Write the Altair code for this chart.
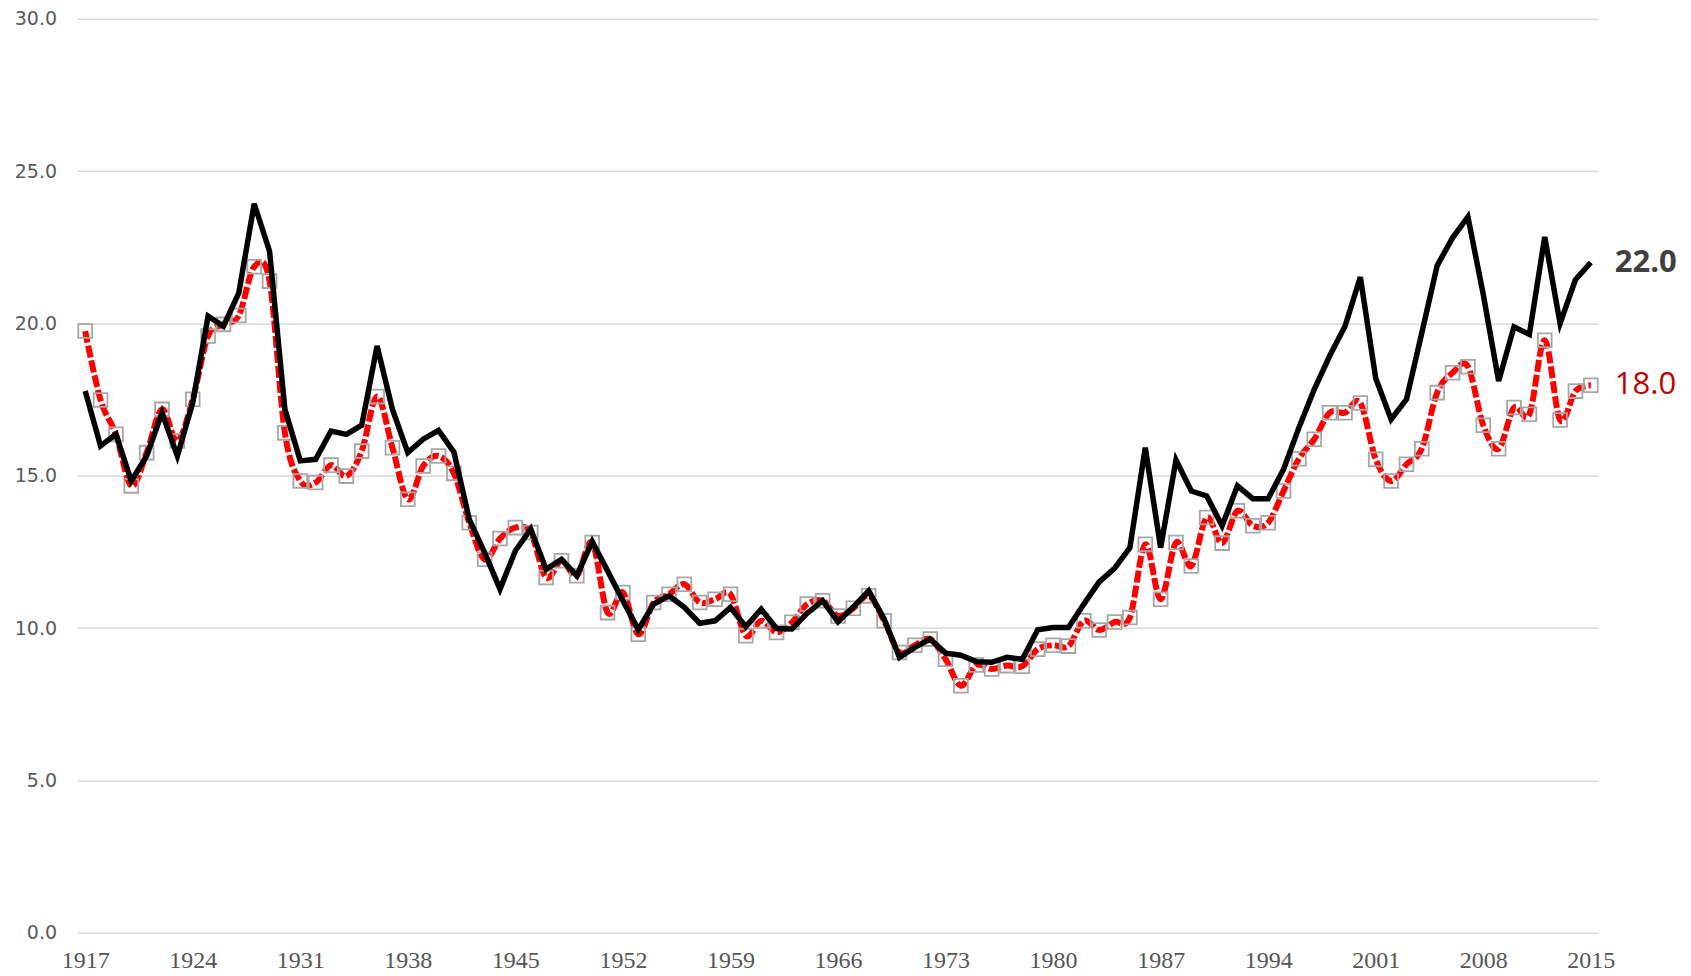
import altair as alt
import pandas as pd

years = list(range(1917, 2016))

top_series = [
    17.78, 15.98, 16.36, 14.83, 15.65, 17.07, 15.65, 17.40, 20.24, 19.91,
    21.00, 23.93, 22.37, 17.18, 15.49, 15.54, 16.47, 16.36, 16.66, 19.26,
    17.18, 15.76, 16.20, 16.49, 15.78, 13.57, 12.48, 11.28, 12.54, 13.25,
    11.93, 12.26, 11.72, 12.84, 11.88, 10.90, 9.95, 10.79, 11.06, 10.68,
    10.16, 10.24, 10.68, 10.05, 10.62, 9.99, 9.97, 10.49, 10.90, 10.21,
    10.70, 11.22, 10.30, 9.04, 9.37, 9.64, 9.18, 9.11, 8.90, 8.88,
    9.04, 8.98, 9.95, 10.02, 10.02, 10.79, 11.52, 11.96, 12.64, 15.92,
    12.64, 15.52, 14.50, 14.34, 13.36, 14.67, 14.25, 14.25, 15.21, 16.58,
    17.84, 18.93, 19.91, 21.52, 18.20, 16.85, 17.51, 19.69, 21.90, 22.81,
    23.50, 20.95, 18.11, 19.89, 19.64, 22.84, 20.00, 21.44, 22.00,
]

bottom_series = [
    19.75, 17.49, 16.36, 14.67, 15.76, 17.18, 16.14, 17.51, 19.59, 19.97,
    20.26, 21.86, 21.39, 16.41, 14.83, 14.78, 15.35, 14.99, 15.81, 17.60,
    15.92, 14.23, 15.32, 15.65, 15.08, 13.46, 12.26, 12.94, 13.30, 13.14,
    11.66, 12.21, 11.72, 12.81, 10.51, 11.17, 9.80, 10.84, 11.11, 11.44,
    10.84, 10.95, 11.11, 9.75, 10.24, 9.86, 10.19, 10.79, 10.90, 10.40,
    10.65, 11.06, 10.24, 9.20, 9.44, 9.64, 8.98, 8.11, 8.79, 8.66,
    8.77, 8.75, 9.31, 9.44, 9.41, 10.24, 9.94, 10.20, 10.35, 12.75,
    10.95, 12.81, 12.04, 13.63, 12.79, 13.85, 13.36, 13.46, 14.50, 15.56,
    16.20, 17.07, 17.07, 17.39, 15.54, 14.83, 15.38, 15.89, 17.73, 18.38,
    18.58, 16.66, 15.89, 17.24, 17.02, 19.45, 16.83, 17.78, 17.97,
]

x_ticks = list(range(1917, 2016, 7))
y_ticks = [0, 5, 10, 15, 20, 25, 30]

df = pd.DataFrame({"year": years, "top": top_series, "bottom": bottom_series})
last_top = pd.DataFrame({"year": [years[-1]], "v": [top_series[-1]]})
last_bottom = pd.DataFrame({"year": [years[-1]], "v": [bottom_series[-1]]})

x_scale = alt.Scale(domain=[1916.5, 2015.5], nice=False, zero=False)
y_scale = alt.Scale(domain=[0, 30], nice=False, zero=True)

x_axis = alt.Axis(values=x_ticks, format="d", grid=False, domain=False, ticks=False,
                  labelFont="Liberation Serif", labelFontSize=24, labelColor="#555555",
                  labelPadding=16, title=None, labelFlush=False)
y_axis = alt.Axis(values=y_ticks, format=".1f", grid=True, gridColor="#D9D9D9",
                  gridWidth=1.5, domain=False, ticks=False, labelFont="DejaVu Sans",
                  labelFontSize=19, labelColor="#595959", labelPadding=21, title=None)


def xy(yfield):
    return dict(
        x=alt.X("year:Q", scale=x_scale, axis=x_axis, title=None),
        y=alt.Y(yfield, scale=y_scale, axis=y_axis, title=None),
    )


base = alt.Chart(df)

red_line = base.mark_line(
    color="#FF0000", strokeWidth=6, strokeDash=[12, 3], strokeCap="butt",
    interpolate="cardinal"
).encode(**xy("bottom:Q"))

markers = base.mark_point(
    shape="square", filled=False, stroke="#A6A6A6", strokeWidth=1.8, size=190, opacity=1
).encode(**xy("bottom:Q"))

black_line = base.mark_line(
    color="#000000", strokeWidth=5.5, strokeJoin="miter"
).encode(**xy("top:Q"))

label_top = alt.Chart(last_top).mark_text(
    align="left", baseline="middle", dx=24, font="Open Sans", fontSize=31,
    fontWeight="bold", color="#404040"
).encode(
    text=alt.Text("v:Q", format=".1f"),
    **xy("v:Q"),
)

label_bottom = alt.Chart(last_bottom).mark_text(
    align="left", baseline="middle", dx=24, font="Open Sans", fontSize=31,
    fontWeight="normal", color="#C00000"
).encode(
    text=alt.Text("v:Q", format=".1f"),
    **xy("v:Q"),
)

chart = alt.layer(red_line, markers, black_line, label_top, label_bottom).properties(
    width=1521,
    height=914,
    autosize=alt.AutoSizeParams(type="none"),
    padding={"left": 69.5, "top": 10.8, "right": 84, "bottom": 40},
    background="white",
).configure_view(stroke=None)

chart.save("out.html", embed_options={"renderer": "svg", "actions": False})
